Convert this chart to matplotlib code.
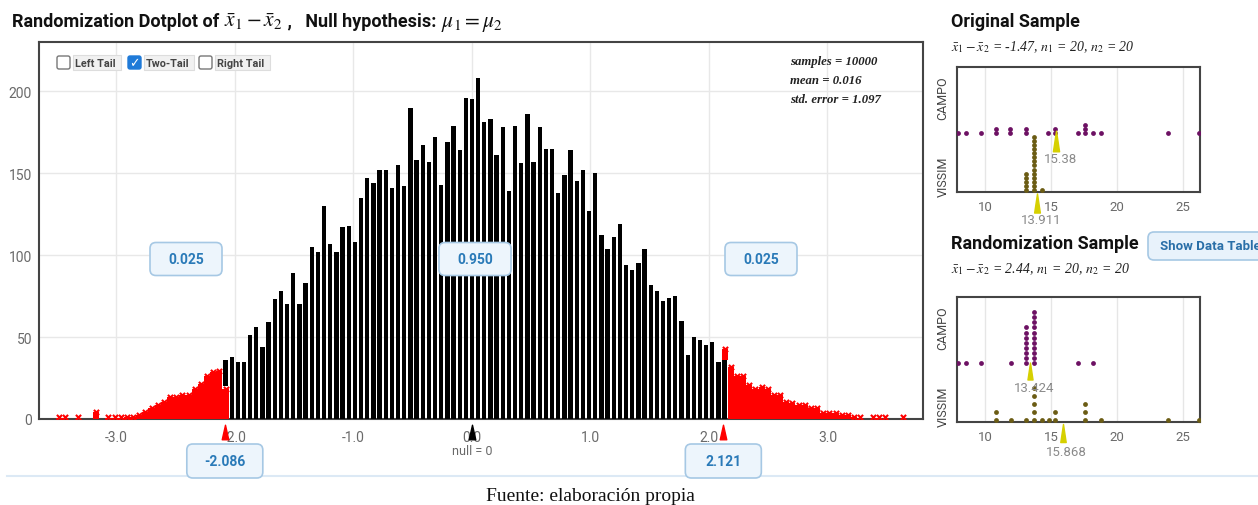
"""Randomization dotplot of a difference in means, with the original and
one randomization sample shown on the right."""

import matplotlib
matplotlib.use("Agg")
import matplotlib.pyplot as plt
from matplotlib.patches import FancyBboxPatch
from matplotlib.path import Path
import numpy as np

W, H = 1258, 506

plt.rcParams["font.family"] = ["Roboto", "DejaVu Sans"]
plt.rcParams["mathtext.fontset"] = "stix"

# ---- randomization distribution: dots per bin ----
first_center = -3.484
bin_width = 0.052
left_tail = [2, 2, 0, 1, 0, 0, 6, 0, 2, 2, 2, 3, 3, 4, 6, 8, 10, 12, 15, 15,
             16, 16, 20, 23, 28, 30, 31]
null_counts = [16, 38, 35, 35, 51, 56, 44, 59, 73, 78,
               70, 89, 70, 83, 105, 102, 130, 107, 102, 117,
               118, 108, 135, 147, 144, 152, 152, 141, 155, 142,
               190, 158, 167, 157, 172, 143, 169, 179, 164, 196,
               195, 208, 181, 183, 161, 178, 139, 179, 156, 186,
               157, 178, 165, 165, 138, 149, 164, 145, 152, 127,
               150, 112, 104, 111, 119, 94, 91, 95, 104, 82,
               78, 72, 74, 75, 60, 39, 50, 48, 45, 47,
               35, 36]
right_tail = [33, 28, 28, 22, 20, 21, 20, 16, 16, 12, 11, 10, 10, 8, 8, 5, 5,
              5, 4, 4, 3, 1, 0, 1, 2, 1, 0, 0, 1]
left_edge_red = 20    # red dots under the first black column
right_edge_red = 8    # red dots on top of the last black column
left_cut, right_cut = -2.086, 2.121
null_value = 0
tail_props = ["0.025", "0.950", "0.025"]
stats_lines = ["samples = 10000", "mean = 0.016", "std. error = 1.097"]
xticks = [-3, -2, -1, 0, 1, 2, 3]
yticks = [0, 50, 100, 150, 200]

# ---- sample dot plots (value, number of stacked dots) ----
groups = ["CAMPO", "VISSIM"]
orig_campo_vals = [7.9, 8.54, 9.67, 10.8, 11.9, 13.08, 14.75, 15.3, 17.07, 17.58,
                   18.2, 18.76, 23.9, 26.2]
orig_campo_n = [1, 1, 1, 2, 2, 2, 1, 2, 1, 3, 1, 1, 1, 1]
orig_vissim_vals = [13.08, 13.7, 14.3]
orig_vissim_n = [5, 14, 1]
rand_campo_vals = [7.9, 8.54, 9.67, 11.97, 13.08, 13.7, 17.07, 18.2]
rand_campo_n = [1, 1, 1, 1, 8, 11, 1, 1]
rand_vissim_vals = [10.8, 11.97, 13.08, 13.7, 14.3, 14.8, 15.3, 17.58, 18.76, 23.9, 26.2]
rand_vissim_n = [2, 1, 1, 5, 1, 1, 2, 3, 1, 1, 1]
orig_means = [15.38, 13.911]
rand_means = [13.424, 15.868]
orig_subtitle = r"$\bar{x}_1 - \bar{x}_2$ = -1.47, $n_1$ = 20, $n_2$ = 20"
rand_subtitle = r"$\bar{x}_1 - \bar{x}_2$ = 2.44, $n_1$ = 20, $n_2$ = 20"

GRAY = "#6a6a6a"
BLUE_TXT = "#2a7ab8"
CAMPO_C = "#6d1163"
VISSIM_C = "#6b5c14"
YELLOW = "#d6d000"


def tall_triangle(half_width):
    verts = [(0, 1), (-half_width, -1), (half_width, -1), (0, 1)]
    return Path(verts, [Path.MOVETO, Path.LINETO, Path.LINETO, Path.CLOSEPOLY])


fig = plt.figure(figsize=(W / 100, H / 100), dpi=100)
renderer = fig.canvas.get_renderer()


def pill(cx, cy, w, h, text, fs=10):
    """Rounded light-blue label box, centre given in pixels from top-left."""
    box = FancyBboxPatch(((cx - w / 2) / 100, (H - cy - h / 2) / 100), w / 100, h / 100,
                         boxstyle="round,pad=0,rounding_size=0.06",
                         transform=fig.dpi_scale_trans, fc="#edf5fc", ec="#a6c8e4",
                         lw=1.2, zorder=4)
    fig.add_artist(box)
    fig.text(cx / W, 1 - cy / H, text, ha="center", va="center", fontsize=fs,
             color=BLUE_TXT, fontweight="bold", zorder=5)


def checkbox(x, y, label, checked, label_w):
    size = 13
    fc = "#1f7ad8" if checked else "white"
    ec = "#1f7ad8" if checked else "#777777"
    box = FancyBboxPatch((x / 100, (H - y - size) / 100), size / 100, size / 100,
                         boxstyle="round,pad=0,rounding_size=0.02",
                         transform=fig.dpi_scale_trans, fc=fc, ec=ec, lw=1, zorder=4)
    fig.add_artist(box)
    if checked:
        fig.text((x + size / 2) / W, 1 - (y + size / 2) / H, "\u2713", ha="center",
                 va="center", fontsize=9, color="white", fontweight="bold",
                 family="DejaVu Sans", zorder=5)
    bg = FancyBboxPatch(((x + 16) / 100, (H - y - 14) / 100), label_w / 100, 15 / 100,
                        boxstyle="square,pad=0", transform=fig.dpi_scale_trans,
                        fc="#f1f1f1", ec="#dddddd", lw=0.8, zorder=4)
    fig.add_artist(bg)
    fig.text((x + 18) / W, 1 - (y + 7) / H, label, ha="left", va="center",
             fontsize=7.8, color="#444444", fontweight="bold", zorder=5)


def text_run(x, y, pieces):
    """Write pieces of text one after another on a baseline (pixels from top-left)."""
    for txt, kw in pieces:
        t = fig.text(x / W, 1 - y / H, txt, ha="left", va="baseline", color="#111111", **kw)
        x += t.get_window_extent(renderer).width


# ================= main randomization dotplot =================
ax = fig.add_axes([39 / W, 1 - 420 / H, (923 - 39) / W, (420 - 43) / H])
n_left, n_null, n_right = len(left_tail), len(null_counts), len(right_tail)
centers = first_center + bin_width * np.arange(n_left + n_null + n_right)
x_left = centers[:n_left]
x_null = centers[n_left:n_left + n_null]
x_right = centers[n_left + n_null:]

black_bottom = np.zeros(n_null)
black_bottom[0] = left_edge_red
ax.bar(x_null, null_counts, bottom=black_bottom, width=bin_width * 0.7,
       color="black", zorder=3)

# red tails: stacked "x" dots that merge into a filled band
red_x = np.concatenate([x_left, [x_null[0]], x_right, [x_null[-1]]])
red_n = np.concatenate([left_tail, [left_edge_red], right_tail, [right_edge_red]]).astype(float)
red_base = np.zeros(len(red_n))
red_base[-1] = null_counts[-1]
keep = red_n > 0
red_x, red_n, red_base = red_x[keep], red_n[keep], red_base[keep]
ax.bar(red_x, np.clip(red_n - 1.5, 0, None), bottom=red_base, width=bin_width,
       color="#ff0000", zorder=3)
ax.scatter(red_x, red_base + np.maximum(red_n - 1.5, 1.5), marker="x", s=14,
           linewidths=1.5, color="#ff0000", zorder=3)

ax.set_xlim(-3.654, 3.806)
ax.set_ylim(0, 230)
ax.set_xticks(xticks)
ax.set_xticklabels([f"{t:.1f}" for t in xticks])
ax.set_yticks(yticks)
ax.tick_params(length=0, labelsize=10, labelcolor=GRAY)
ax.tick_params(axis="x", pad=8)
ax.tick_params(axis="y", pad=5)
ax.grid(color="#e8e8e8", lw=1, zorder=0)
ax.set_axisbelow(True)
for sp in ax.spines.values():
    sp.set_color("#444444")
    sp.set_linewidth(1.5)

# cut-off and null markers under the axis
tri = tall_triangle(0.45)
ax.scatter([left_cut, right_cut], [-0.035, -0.035], marker=tri, s=110, color="#ff0000",
           transform=ax.get_xaxis_transform(), clip_on=False, zorder=6)
ax.scatter([null_value], [-0.035], marker=tri, s=110, color="black",
           transform=ax.get_xaxis_transform(), clip_on=False, zorder=6)
ax.text(null_value, -0.083, f"null = {null_value}", transform=ax.get_xaxis_transform(),
        ha="center", va="center", fontsize=9, color=GRAY)

# stats in the top right corner
for i, line in enumerate(stats_lines):
    fig.text(790 / W, 1 - (62 + 19 * i) / H, line, ha="left", va="center", fontsize=9.2,
             family="Liberation Serif", style="italic", fontweight="bold", color="#222222")

# tail checkboxes
checkbox(57, 57, "Left Tail", False, 48)
checkbox(128, 57, "Two-Tail", True, 50)
checkbox(199, 57, "Right Tail", False, 55)

# proportions and cut-off labels
for cx, txt in zip([186, 475, 761], tail_props):
    pill(cx, 260, 72, 33, txt)
for cut in (left_cut, right_cut):
    cx = ax.transData.transform((cut, 0))[0]
    pill(cx, 462, 76, 34, f"{cut:.3f}")

bold = dict(fontsize=13, fontweight="bold")
math = dict(fontsize=15.5)
text_run(12, 27, [("Randomization Dotplot of ", bold),
                  (r"$\bar{x}_1 - \bar{x}_2$", math),
                  (" ,   Null hypothesis: ", bold),
                  (r"$\mu_1 = \mu_2$", math)])


# ================= sample panels =================
def sample_panel(top, title, title_y, subtitle, campo, vissim, means, steps, tri_pos, lab_pos):
    axs = fig.add_axes([957 / W, 1 - (top + 125) / H, 243 / W, 125 / H])
    for (vals, counts), base, step, color in zip([campo, vissim], [0.47, 0.015], steps,
                                                 [CAMPO_C, VISSIM_C]):
        for v, n in zip(vals, counts):
            axs.scatter([v] * n, base + step * np.arange(n), s=12, color=color,
                        zorder=3, linewidths=0)
    axs.set_xlim(7.86, 26.29)
    axs.set_ylim(0, 1)
    axs.set_xticks([10, 15, 20, 25])
    axs.set_yticks([])
    axs.tick_params(length=0, labelsize=9.5, labelcolor=GRAY, pad=6)
    axs.grid(axis="x", color="#e6e6e6", lw=1, zorder=0)
    axs.set_axisbelow(True)
    for sp in axs.spines.values():
        sp.set_color("#444444")
        sp.set_linewidth(1.5)
    for g, gy in zip(groups, [0.76, 0.13]):
        axs.text(-0.058, gy, g, rotation=90, ha="center", va="center", fontsize=9,
                 color="#444444", transform=axs.transAxes)
    ytri = tall_triangle(0.3)
    for m, (ty, tsize), ly in zip(means, tri_pos, lab_pos):
        axs.scatter([m], [ty], marker=ytri, s=tsize, color=YELLOW, zorder=5, clip_on=False)
        axs.text(m + 0.3, ly, f"{m:g}", ha="center", va="center", fontsize=9.5,
                 color="#8a8a8a", zorder=6, clip_on=False)
    fig.text(951 / W, 1 - title_y / H, title, ha="left", va="center", fontsize=13,
             fontweight="bold", color="#111111")
    fig.text(951 / W, 1 - (title_y + 25) / H, subtitle, ha="left", va="center",
             fontsize=10, family="Liberation Serif", style="italic", color="#222222")
    return axs


sample_panel(68, "Original Sample", 22, orig_subtitle,
             (orig_campo_vals, orig_campo_n), (orig_vissim_vals, orig_vissim_n),
             orig_means, [0.034, 0.033], [(0.405, 220), (-0.09, 190)], [0.27, -0.22])
sample_panel(298, "Randomization Sample", 244, rand_subtitle,
             (rand_campo_vals, rand_campo_n), (rand_vissim_vals, rand_vissim_n),
             rand_means, [0.041, 0.064], [(0.41, 150), (-0.088, 170)], [0.278, -0.235])

# "Show Data Table" button, cut by the right edge
btn = FancyBboxPatch((1148 / 100, (H - 261) / 100), 130 / 100, 28 / 100,
                     boxstyle="round,pad=0,rounding_size=0.06", transform=fig.dpi_scale_trans,
                     fc="#e8f2fb", ec="#a6c8e4", lw=1.2)
fig.add_artist(btn)
fig.text(1160 / W, 1 - 247 / H, "Show Data Table", ha="left", va="center", fontsize=9.5,
         fontweight="bold", color="#2a6fa8")

# separator and source note
fig.add_artist(plt.Line2D([7 / W, 1], [1 - 477 / H, 1 - 477 / H], color="#dce9f5",
                          lw=1.5, transform=fig.transFigure))
fig.text(590 / W, 1 - 501 / H, "Fuente: elaboración propia", ha="center", va="baseline",
         fontsize=14, family="Liberation Serif", color="#111111")

fig.savefig("out.png", dpi=100)
plt.close(fig)
